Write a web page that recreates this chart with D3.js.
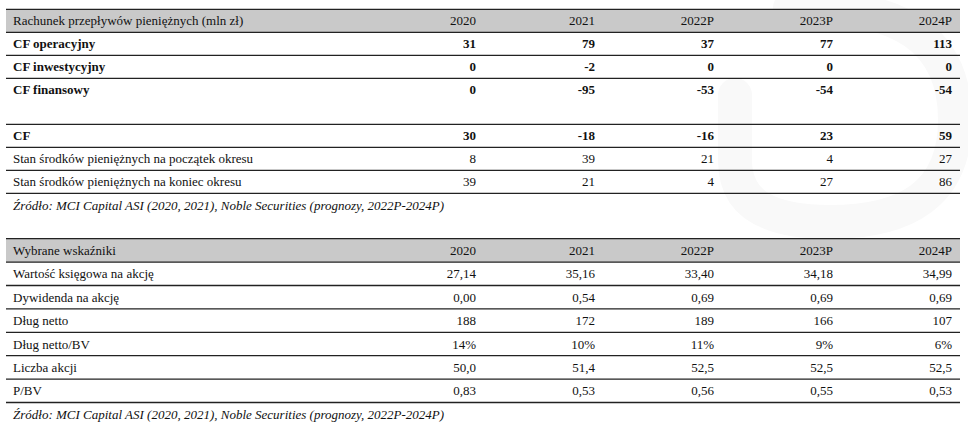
<!DOCTYPE html>
<html><head><meta charset="utf-8">
<script src="https://cdn.jsdelivr.net/npm/d3@7"></script>
<style>
body{margin:0;background:#fff;}
svg{display:block;}
svg text{font-family:"Liberation Serif","Times New Roman","DejaVu Serif",serif;font-size:13px;fill:#111;}
</style></head><body>
<svg id="c" width="968" height="428"></svg>
<script>
const years = ["2020","2021","2022P","2023P","2024P"];

const cfTitle = "Rachunek przepływów pieniężnych (mln zł)";
const cfLabels = ["CF operacyjny","CF inwestycyjny","CF finansowy","","CF",
  "Stan środków pieniężnych na początek okresu","Stan środków pieniężnych na koniec okresu"];
const cfBold = [true,true,true,false,true,false,false];
const cfOperacyjny = [31,79,37,77,113];
const cfInwestycyjny = [0,-2,0,0,0];
const cfFinansowy = [0,-95,-53,-54,-54];
const cfTotal = [30,-18,-16,23,59];
const cashStart = [8,39,21,4,27];
const cashEnd = [39,21,4,27,86];

const indTitle = "Wybrane wskaźniki";
const indLabels = ["Wartość księgowa na akcję","Dywidenda na akcję","Dług netto","Dług netto/BV","Liczba akcji","P/BV"];
const bvps = [27.14,35.16,33.40,34.18,34.99];
const dps = [0.00,0.54,0.69,0.69,0.69];
const netDebt = [188,172,189,166,107];
const netDebtBV = [14,10,11,9,6];
const shares = [50.0,51.4,52.5,52.5,52.5];
const pbv = [0.83,0.53,0.56,0.55,0.53];

const source = "Źródło: MCI Capital ASI (2020, 2021), Noble Securities (prognozy, 2022P-2024P)";

const pl = f => v => d3.format(f)(v).replace(".", ",").replace("−","-");
const cfValues = [cfOperacyjny,cfInwestycyjny,cfFinansowy,null,cfTotal,cashStart,cashEnd]
  .map(a => a ? a.map(pl("d")) : null);
const indValues = [bvps.map(pl(".2f")), dps.map(pl(".2f")), netDebt.map(pl("d")),
  netDebtBV.map(v => v + "%"), shares.map(pl(".1f")), pbv.map(pl(".2f"))];

const svg = d3.select("#c");

// faint watermark
svg.append("path")
  .attr("d","M790,8 C900,2 955,40 955,120 C955,195 905,222 830,222 C770,222 735,205 735,160 L735,95")
  .attr("fill","none").attr("stroke","#f9f9f9").attr("stroke-width",34).attr("stroke-linecap","round");

const left = 6, right = 960, textX = 13;
const x = d3.scaleLinear().domain([0,4]).range([476,952]);

function table(top, title, labels, values, bold, rowH){
  const n = labels.length;
  const y = d3.scaleLinear().domain([0, n+1]).range([top, top + (n+1)*rowH]);
  const g = svg.append("g");
  g.append("rect").attr("x",left).attr("y",y(0)).attr("width",right-left).attr("height",rowH).attr("fill","#c9c9c9");
  g.append("text").attr("x",textX).attr("y",y(0.5)).attr("dy","0.35em").text(title);
  years.forEach((yr,j)=>g.append("text").attr("x",x(j)).attr("y",y(0.5)).attr("dy","0.35em").attr("text-anchor","end").text(yr));
  labels.forEach((lab,i)=>{
    const fw = bold[i] ? "bold" : "normal";
    g.append("text").attr("x",textX).attr("y",y(i+1.5)).attr("dy","0.35em").style("font-weight",fw).text(lab);
    if(values[i]) values[i].forEach((v,j)=>g.append("text").attr("x",x(j)).attr("y",y(i+1.5)).attr("dy","0.35em")
      .attr("text-anchor","end").style("font-weight",fw).text(v));
  });
  const ls = [];
  for(let k=0;k<=n+1;k++){
    if(k>=1 && k<=n && labels[k-1]==="" ) continue;
    ls.push(k);
  }
  ls.forEach(k=>g.append("line").attr("x1",left).attr("x2",right).attr("y1",y(k)).attr("y2",y(k))
    .attr("stroke","#222").attr("stroke-width",1.3));
  g.append("text").attr("x",textX).attr("y",y(n+1)+12).attr("dy","0.35em").style("font-style","italic").text(source);
}

table(9.3, cfTitle, cfLabels, cfValues, cfBold, 23);
table(238.7, indTitle, indLabels, indValues, indLabels.map(()=>false), 23.4);
</script></body></html>
